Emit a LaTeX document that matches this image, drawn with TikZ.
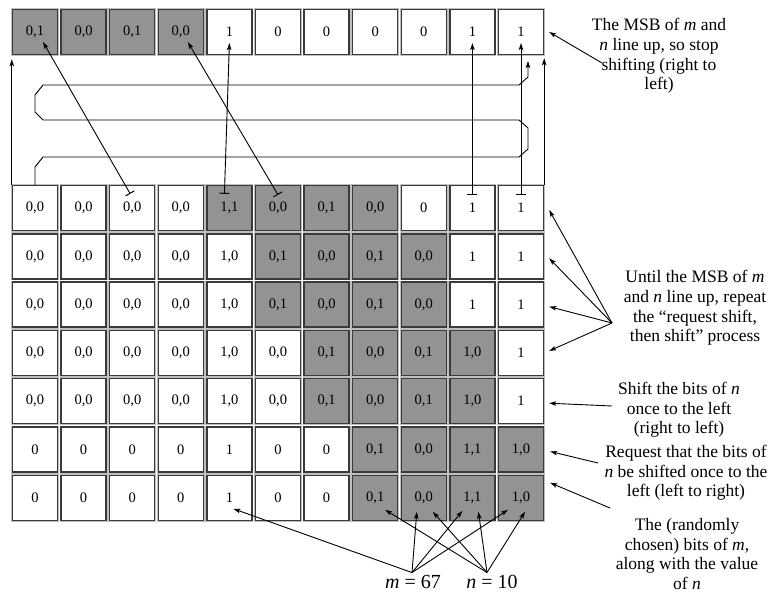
\documentclass[tikz,border=0pt]{standalone}
\usepackage{fontspec}
\setmainfont{Liberation Serif}
\usetikzlibrary{arrows.meta,calc}
\definecolor{cellgray}{RGB}{147,147,149}
\definecolor{celledge}{RGB}{58,58,58}
\begin{document}
\begin{tikzpicture}[x=1pt,y=-1pt,
  cellbox/.style={draw=celledge, line width=1.4pt, minimum width=45pt, minimum height=45pt,
    inner sep=0pt, font=\fontsize{14.5}{16}\selectfont,
    preaction={draw=black!25, line width=3pt}},
  wc/.style={cellbox, fill=white},
  gc/.style={cellbox, fill=cellgray},
  arr/.style={line width=0.9pt, -{Stealth[length=7pt,width=4.5pt,inset=1.5pt]}},
  bararr/.style={line width=0.9pt, {Bar[width=10pt,line width=1pt]}-{Stealth[length=7pt,width=4.5pt,inset=1.5pt]}},
  route/.style={line width=0.9pt},
  ann/.style={align=center, inner sep=0pt, font=\fontsize{17.5}{19.6}\selectfont},
  big/.style={inner sep=1pt, font=\fontsize{20}{22}\selectfont, anchor=base}
]
\useasboundingbox (0,0) rectangle (776,595);
\fill[white] (0,0) rectangle (776,595);

% top row
\foreach \lab/\s [count=\c] in {{0,1}/gc,{0,0}/gc,{0,1}/gc,{0,0}/gc,1/wc,0/wc,0/wc,0/wc,0/wc,1/wc,1/wc}
  \node[\s] (t\c) at ({35+(\c-1)*48.6},32) {\lab};
% grid rows
\foreach \lab/\s [count=\c] in {{0,0}/wc,{0,0}/wc,{0,0}/wc,{0,0}/wc,{1,1}/gc,{0,0}/gc,{0,1}/gc,{0,0}/gc,0/wc,1/wc,1/wc}
  \node[\s] (r1c\c) at ({35+(\c-1)*48.6},{208+0*48.3}) {\lab};
\foreach \lab/\s [count=\c] in {{0,0}/wc,{0,0}/wc,{0,0}/wc,{0,0}/wc,{1,0}/wc,{0,1}/gc,{0,0}/gc,{0,1}/gc,{0,0}/gc,1/wc,1/wc}
  \node[\s] (r2c\c) at ({35+(\c-1)*48.6},{208+1*48.3}) {\lab};
\foreach \lab/\s [count=\c] in {{0,0}/wc,{0,0}/wc,{0,0}/wc,{0,0}/wc,{1,0}/wc,{0,1}/gc,{0,0}/gc,{0,1}/gc,{0,0}/gc,1/wc,1/wc}
  \node[\s] (r3c\c) at ({35+(\c-1)*48.6},{208+2*48.3}) {\lab};
\foreach \lab/\s [count=\c] in {{0,0}/wc,{0,0}/wc,{0,0}/wc,{0,0}/wc,{1,0}/wc,{0,0}/wc,{0,1}/gc,{0,0}/gc,{0,1}/gc,{1,0}/gc,1/wc}
  \node[\s] (r4c\c) at ({35+(\c-1)*48.6},{208+3*48.3}) {\lab};
\foreach \lab/\s [count=\c] in {{0,0}/wc,{0,0}/wc,{0,0}/wc,{0,0}/wc,{1,0}/wc,{0,0}/wc,{0,1}/gc,{0,0}/gc,{0,1}/gc,{1,0}/gc,1/wc}
  \node[\s] (r5c\c) at ({35+(\c-1)*48.6},{208+4*48.3}) {\lab};
\foreach \lab/\s [count=\c] in {0/wc,0/wc,0/wc,0/wc,1/wc,0/wc,0/wc,{0,1}/gc,{0,0}/gc,{1,1}/gc,{1,0}/gc}
  \node[\s] (r6c\c) at ({35+(\c-1)*48.6},{208+5*48.3}) {\lab};
\foreach \lab/\s [count=\c] in {0/wc,0/wc,0/wc,0/wc,1/wc,0/wc,0/wc,{0,1}/gc,{0,0}/gc,{1,1}/gc,{1,0}/gc}
  \node[\s] (r7c\c) at ({35+(\c-1)*48.6},{208+6*48.3}) {\lab};

% side arrows
\draw[arr] (r1c1.north west) -- ($(t1.south west)+(0,4)$);
\draw[arr] (r1c11.north east) -- ($(t11.south east)+(0,3)$);

% serpentine route
\coordinate (serpEnd) at (528,61);
\draw[arr,line join=miter] (r1c1.north) -- (35,167) -- (43,157) -- (519,157) -- (528,149) -- (528,128)
  -- (519,120) -- (43,120) -- (35,112) -- (35,95) -- (43,85) -- (519,85) -- (528,77) -- (serpEnd);

% bar arrows
\draw[bararr] ($(r1c3.north)+(-2,9)$) -- ($(t1.center)+(8,10)$);
\draw[bararr] ($(r1c6.north)+(0,10)$) -- ($(t4.center)+(7,10)$);
\draw[bararr] ($(r1c5.north)+(-5,9)$) -- ($(t5.center)+(0,11)$);
\draw[bararr] ($(r1c10.north)+(0,10)$) -- ($(t10.center)+(0,11)$);
\draw[bararr] ($(r1c11.north)+(0,10)$) -- ($(t11.center)+(0,11)$);

% annotations
\node[ann] (ann1) at (659,56) {The MSB of \textit{m} and\\\textit{n} line up, so stop\\shifting (right to\\left)};
\node[ann] (ann2) at (695,308) {Until the MSB of \textit{m}\\and \textit{n} line up, repeat\\the “request shift,\\then shift” process};
\node[ann] (ann3) at (679,410) {Shift the bits of \textit{n}\\once to the left\\(right to left)};
\node[ann] (ann4) at (686,473) {Request that the bits of\\\textit{n} be shifted once to the\\left (left to right)};
\node[ann] (ann5) at (687,554) {The (randomly\\chosen) bits of \textit{m},\\along with the value\\of \textit{n}};

\coordinate (a1) at (602,63);
\coordinate (a2) at (612,323);
\coordinate (a3) at (612,406);
\coordinate (a4) at (598,463);
\coordinate (a5) at (610,508);
\draw[arr] (a1) -- ($(t11.east)+(5,0)$);
\draw[arr] (a2) -- ($(r1c11.east)+(5,2)$);
\draw[arr] (a2) -- ($(r2c11.east)+(5,2)$);
\draw[arr] (a2) -- ($(r3c11.east)+(5,2)$);
\draw[arr] (a2) -- ($(r4c11.east)+(5,-2)$);
\draw[arr] (a3) -- ($(r5c11.east)+(5,2)$);
\draw[arr] (a4) -- ($(r6c11.east)+(6,2)$);
\draw[arr] (a5) -- ($(r7c11.east)+(6,-15)$);

% m and n
\node[big] (mlab) at (413,588) {\textit{m} = 67};
\node[big] (nlab) at (492,588) {\textit{n} = 10};
\coordinate (mpt) at ($(mlab.north)+(-1,-1)$);
\coordinate (npt) at ($(nlab.north)+(-5,-1)$);
\draw[arr] (mpt) -- ($(r7c5.center)+(4,11)$);
\draw[arr] (mpt) -- ($(r7c9.center)+(-7,14)$);
\draw[arr] (mpt) -- ($(r7c10.center)+(-10,13)$);
\draw[arr] (mpt) -- ($(r7c11.center)+(-13,12)$);
\draw[arr] (npt) -- ($(r7c8.center)+(10,12)$);
\draw[arr] (npt) -- ($(r7c9.center)+(9,14)$);
\draw[arr] (npt) -- ($(r7c10.center)+(6,14)$);
\draw[arr] (npt) -- ($(r7c11.center)+(4,14)$);
\end{tikzpicture}
\end{document}
